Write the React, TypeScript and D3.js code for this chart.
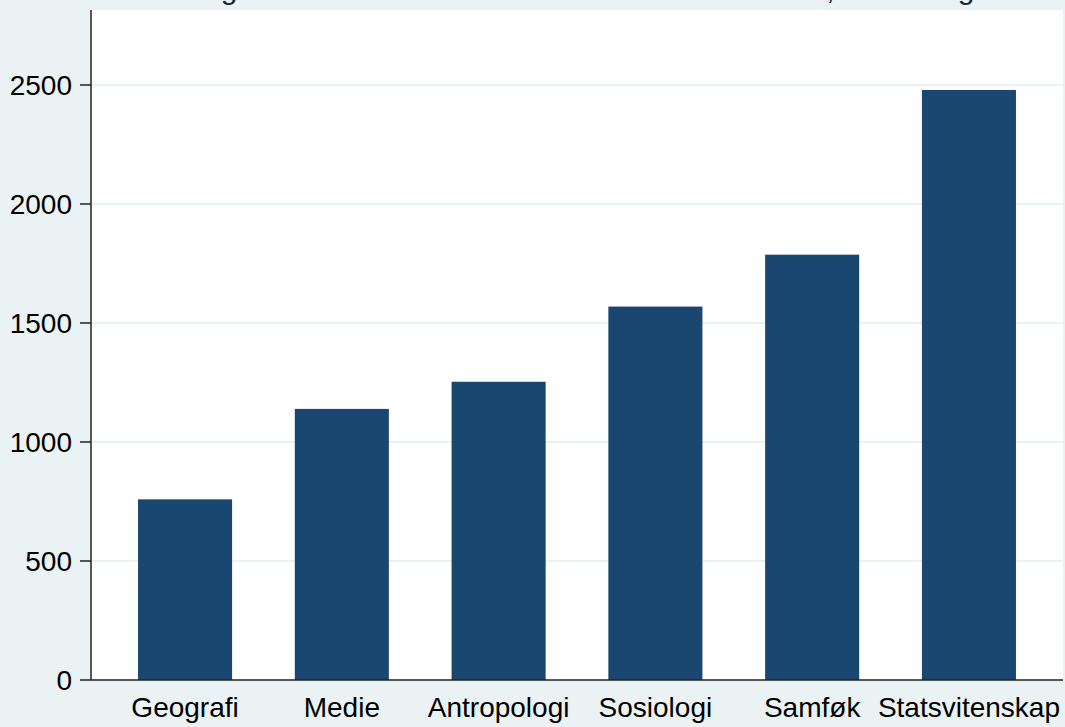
import React from 'react';
import * as d3 from 'd3';

const categories = ['Geografi', 'Medie', 'Antropologi', 'Sosiologi', 'Samføk', 'Statsvitenskap'];
const values = [759, 1139, 1253, 1569, 1787, 2479];
const yTicks = [0, 500, 1000, 1500, 2000, 2500];
const title = 'Søkning til bachelorstudier ved SV-fakultetet år 2019, førstevalg';

const W = 1065;
const H = 727;
const FONT = '"Liberation Sans", Arial, sans-serif';

const App: React.FC = () => {
  // plot region in page pixels
  const left = 91, right = 1063, top = 10, bottom = 680;

  const x = d3.scaleBand<string>()
    .domain(categories)
    .range([left, right])
    .paddingInner(0.4)
    .paddingOuter(0.3);

  const y = d3.scaleLinear().domain([0, 2815]).range([bottom, top]);

  return (
    <svg width={W} height={H} style={{ position: 'absolute', left: 0, top: 0 }} fontFamily={FONT}>
      <rect x={0} y={0} width={W} height={H} fill="#EAF2F3" />
      {/* title sits mostly above the top edge, as in the reference */}
      <text x={551} y={-1} textAnchor="middle" fontSize={30} fill="#1a2440">{title}</text>

      {/* plot region */}
      <rect x={left} y={top} width={right - left} height={bottom - top} fill="#fff" />

      {/* grid */}
      {yTicks.filter(t => t > 0).map(t => (
        <line key={t} x1={left} x2={right} y1={y(t)} y2={y(t)} stroke="#EAF2F3" strokeWidth={2} />
      ))}

      {/* bars */}
      {categories.map((c, i) => (
        <rect key={c} x={x(c)} y={y(values[i])} width={x.bandwidth()} height={y(0) - y(values[i])}
          fill="#1A476F" />
      ))}

      {/* y axis */}
      <line x1={left} x2={left} y1={top} y2={bottom} stroke="#222" strokeWidth={1.5} />
      {yTicks.map(t => (
        <g key={t} transform={`translate(0,${y(t)})`}>
          <line x1={left - 11} x2={left} stroke="#222" strokeWidth={1.5} />
          <text x={72} dy="0.36em" textAnchor="end" fontSize={28} fill="#000">{t}</text>
        </g>
      ))}

      {/* x axis */}
      <line x1={left} x2={right} y1={bottom} y2={bottom} stroke="#222" strokeWidth={1.5} />
      {categories.map(c => (
        <text key={c} x={(x(c) ?? 0) + x.bandwidth() / 2} y={717} textAnchor="middle" fontSize={28} fill="#000">{c}</text>
      ))}
    </svg>
  );
};

export default App;
